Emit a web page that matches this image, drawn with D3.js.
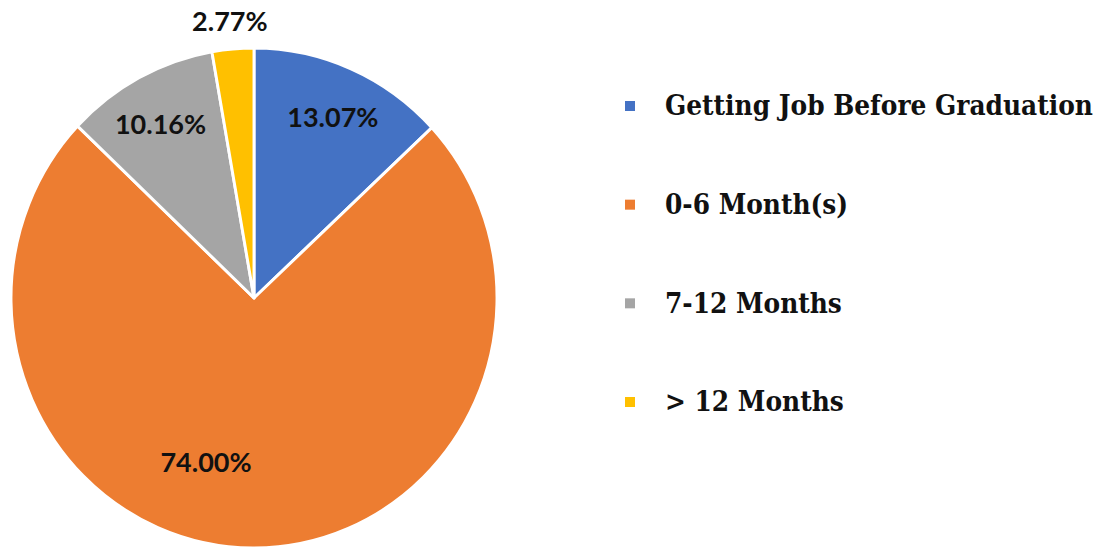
<!DOCTYPE html>
<html>
<head>
<script src="https://d3js.org/d3.v7.min.js"></script>
<style>
  body { margin: 0; background: #fff; }
</style>
</head>
<body>
<div id="chart"></div>
<script>
  var categories = ["Getting Job Before Graduation", "0-6 Month(s)", "7-12 Months", "> 12 Months"];
  var values = [13.07, 74.00, 10.16, 2.77];
  var colors = ["#4472C4", "#ED7D31", "#A5A5A5", "#FFC000"];

  var width = 1107, height = 552;
  var cx = 254, cy = 298, radius = 250;

  var svg = d3.select("#chart").append("svg")
      .attr("width", width)
      .attr("height", height);

  var pie = d3.pie().sort(null).value(function(d) { return d; });
  var arcs = pie(values);

  var arc = d3.arc().innerRadius(0).outerRadius(radius);

  // slices (reference is slightly narrower than tall)
  var g = svg.append("g")
      .attr("transform", "translate(" + cx + "," + cy + ") scale(0.972,1)");

  g.selectAll("path")
    .data(arcs)
    .enter()
    .append("path")
      .attr("d", arc)
      .attr("fill", function(d, i) { return colors[i]; })
      .attr("stroke", "#fff")
      .attr("stroke-width", 3)
      .attr("stroke-linejoin", "round");

  // data labels
  var inside = d3.arc().innerRadius(radius * 0.79).outerRadius(radius * 0.79);
  var outside = d3.arc().innerRadius(radius * 1.11).outerRadius(radius * 1.11);

  var labels = svg.append("g").attr("transform", "translate(" + cx + "," + cy + ")");
  labels.selectAll("text")
    .data(arcs)
    .enter()
    .append("text")
      .attr("transform", function(d, i) {
        var p;
        if (d.value < 5) p = outside.centroid(d);
        else if (d.value > 50) p = [-48, 164];   // best-fit spot for the big slice
        else p = inside.centroid(d);
        return "translate(" + p[0] + "," + p[1] + ")";
      })
      .attr("text-anchor", "middle")
      .attr("dy", "0.36em")
      .style("font-family", "Lato, 'Open Sans', sans-serif")
      .style("font-weight", "bold")
      .style("font-size", "27px")
      .style("fill", "#111")
      .text(function(d) { return d.value.toFixed(2) + "%"; });

  // legend
  var ly = d3.scalePoint().domain(categories).range([106, 402]);

  var legend = svg.append("g");
  var item = legend.selectAll("g")
    .data(categories)
    .enter()
    .append("g")
      .attr("transform", function(d) { return "translate(625," + ly(d) + ")"; });

  item.append("rect")
      .attr("x", 0)
      .attr("y", -5)
      .attr("width", 10)
      .attr("height", 10)
      .attr("fill", function(d, i) { return colors[i]; });

  var txt = item.append("text")
      .attr("dy", "0.35em")
      .style("font-family", "'DejaVu Serif', serif")
      .style("font-weight", "bold")
      .style("font-size", "27px")
      .style("fill", "#111")
      .text(function(d) { return d; });

  // squeeze horizontally so the longest entry spans the reference width
  var longest = txt.nodes()[0].getComputedTextLength();
  var sx = 428 / longest;
  txt.attr("transform", "translate(40,0) scale(" + sx + ",1)");
</script>
</body>
</html>
